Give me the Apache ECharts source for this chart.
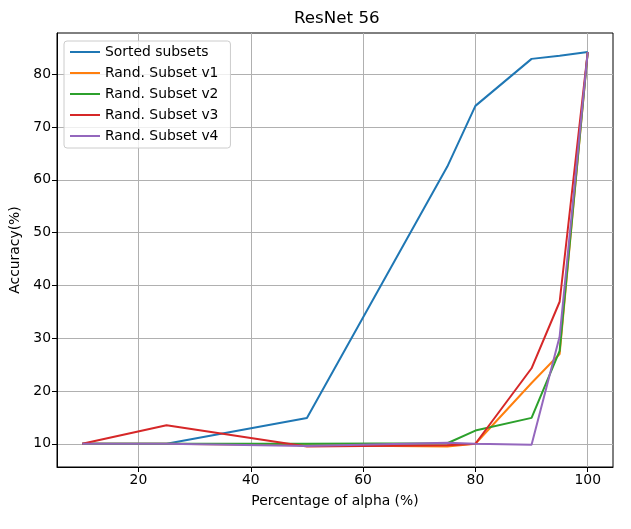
<!DOCTYPE html>
<html>
<head>
<meta charset="utf-8">
<script src="https://cdn.jsdelivr.net/npm/echarts@6/dist/echarts.min.js"></script>
<style>
  html, body { margin: 0; padding: 0; background: #fff; }
  #chart { width: 631px; height: 529px; }
</style>
</head>
<body>
<div id="chart"></div>
<script>
// x values (percentage of alpha)
let alphaPct = [10, 25, 50, 75, 80, 90, 95, 100];

// accuracy values
let sortedSubsets = [10, 10, 14.9, 62.5, 74, 82.9, 83.5, 84.2];
let randV1 = [10, 10, 9.7, 9.5, 10, 21.5, 27, 84.2];
let randV2 = [10, 10, 10, 10.1, 12.5, 14.9, 27.6, 84.2];
let randV3 = [10, 13.5, 9.5, 9.7, 10, 24.3, 36.9, 84.2];
let randV4 = [10, 10, 9.6, 10.2, 10, 9.8, 30.3, 84.2];

let seriesNames = ['Sorted subsets', 'Rand. Subset v1', 'Rand. Subset v2', 'Rand. Subset v3', 'Rand. Subset v4'];
let xTicks = [20, 40, 60, 80, 100];
let yTicks = [10, 20, 30, 40, 50, 60, 70, 80];

let colors = ['#1f77b4', '#ff7f0e', '#2ca02c', '#d62728', '#9467bd'];
let font = 'DejaVu Sans';
let fs = 13.9;

function pairs(ys) {
    let out = [];
    for (let i = 0; i < alphaPct.length; i++) {
        out.push([alphaPct[i], ys[i]]);
    }
    return out;
}

let myChart = echarts.init(document.getElementById('chart'));

let allData = [sortedSubsets, randV1, randV2, randV3, randV4];
let series = allData.map(function (ys, i) {
    return {
        name: seriesNames[i],
        type: 'line',
        symbol: 'none',
        data: pairs(ys),
        lineStyle: { width: 2, color: colors[i] },
        itemStyle: { color: colors[i] }
    };
});

let option = {
    animation: false,
    backgroundColor: '#fff',
    title: {
        text: 'ResNet 56',
        left: 294,
        top: 10,
        padding: 0,
        textStyle: { fontFamily: font, fontSize: 16.7, fontWeight: 'normal', color: '#000' }
    },
    legend: {
        orient: 'vertical',
        left: 64,
        top: 41,
        padding: [4, 12, 5, 5],
        itemWidth: 30,
        itemHeight: 14,
        itemGap: 7,
        itemStyle: { opacity: 0 },
        lineStyle: { width: 2 },
        backgroundColor: 'rgba(255,255,255,0.8)',
        borderColor: '#cccccc',
        borderWidth: 1,
        borderRadius: 3,
        textStyle: { fontFamily: font, fontSize: fs, color: '#000' },
        data: seriesNames
    },
    grid: {
        left: 57,
        right: 18,
        top: 33,
        bottom: 62,
        show: true,
        borderColor: '#000',
        borderWidth: 1
    },
    xAxis: {
        type: 'value',
        min: 5.5,
        max: 104.5,
        name: 'Percentage of alpha (%)',
        nameLocation: 'middle',
        nameGap: 27,
        nameTextStyle: { fontFamily: font, fontSize: fs, color: '#000' },
        axisLine: { show: true, lineStyle: { color: '#000', width: 1 } },
        axisTick: { show: true, length: 5, customValues: xTicks, lineStyle: { color: '#000' } },
        axisLabel: { customValues: xTicks, fontFamily: font, fontSize: fs, color: '#000', margin: 6 },
        splitLine: { show: true, lineStyle: { color: '#b0b0b0', width: 1 } }
    },
    yAxis: {
        type: 'value',
        min: 5.6,
        max: 87.8,
        name: 'Accuracy(%)',
        nameLocation: 'middle',
        nameGap: 31,
        nameRotate: 90,
        nameTextStyle: { fontFamily: font, fontSize: fs, color: '#000' },
        axisLine: { show: true, lineStyle: { color: '#000', width: 1 } },
        axisTick: { show: true, length: 5, customValues: yTicks, lineStyle: { color: '#000' } },
        axisLabel: { customValues: yTicks, fontFamily: font, fontSize: fs, color: '#000', margin: 6 },
        splitLine: { show: true, lineStyle: { color: '#b0b0b0', width: 1 } }
    },
    series: series
};

myChart.setOption(option);
</script>
</body>
</html>
